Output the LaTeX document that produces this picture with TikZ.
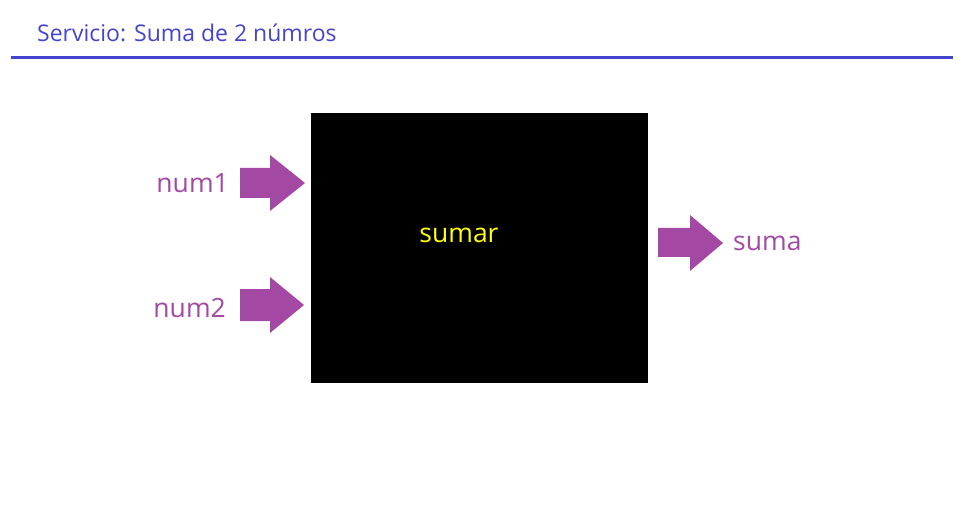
\documentclass[tikz,border=0pt]{standalone}
\usepackage{fontspec}
\setmainfont{Open Sans}
\definecolor{titleblue}{RGB}{68,68,204}
\definecolor{arrpurple}{RGB}{163,73,164}
\definecolor{sumyellow}{RGB}{255,255,0}
\begin{document}
\begin{tikzpicture}[x=1pt,y=-1pt,
  lbl/.style={text=arrpurple,font=\fontsize{26.5}{30}\selectfont,inner sep=0pt},
  fatarrow/.style={fill=arrpurple,draw=none}]
\useasboundingbox (0,0) rectangle (972,513);
\node[anchor=base west,text=titleblue,font=\fontsize{23}{28}\selectfont,inner sep=0pt] (title) at (37,42) {Servicio: Suma de 2 númros};
\coordinate (rl) at (11,58);
\coordinate (rr) at (953,58);
\draw[titleblue,line width=3pt] (rl) -- (rr);
\node[fill=black,minimum width=337pt,minimum height=270pt,inner sep=0pt,anchor=north west] (box) at (311,113) {};
\node[text=sumyellow,font=\fontsize{26.5}{30}\selectfont,inner sep=0pt] (sumar) at (459,235) {sumar};
% arrows
\fill[fatarrow] (240,168) -- (270,168) -- (270,155) -- (305,183) -- (270,211) -- (270,198) -- (240,198) -- cycle;
\fill[fatarrow] (240,289) -- (270,289) -- (270,277) -- (304,305) -- (270,333) -- (270,321) -- (240,321) -- cycle;
\fill[fatarrow] (658,228) -- (690,228) -- (690,215) -- (723,243) -- (690,271) -- (690,257) -- (658,257) -- cycle;
\node[lbl,anchor=east] (n1) at (229,183) {num1};
\node[lbl,anchor=east] (n2) at (226,308) {num2};
\node[lbl,anchor=west] (s) at (733,243) {suma};
\end{tikzpicture}
\end{document}
